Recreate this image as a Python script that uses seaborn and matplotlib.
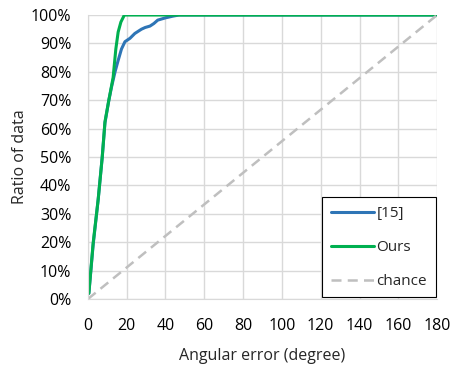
import numpy as np
import pandas as pd
import matplotlib
matplotlib.use("Agg")
import matplotlib.pyplot as plt
import seaborn as sns
from matplotlib.ticker import FuncFormatter

# curves (angle in degrees, ratio in %)
ref_angle = [0.5, 2.7, 5.3, 7.4, 8.8, 10.8, 12.2, 14.0, 15.6, 17.3, 19.1, 21.7, 24.2,
             27.6, 29.5, 32.0, 34.0, 36.0, 40.0, 43.8, 47.0, 180.0]
ref_ratio = [2.0, 19.0, 35.0, 50.0, 62.0, 70.0, 74.7, 80.0, 84.0, 88.0, 90.6, 91.8, 93.5,
             95.0, 95.6, 96.1, 97.0, 98.2, 99.0, 99.6, 100.0, 100.0]

ours_angle = [0.5, 2.7, 5.3, 7.4, 8.8, 10.8, 13.0, 14.4, 15.6, 17.0, 18.8, 180.0]
ours_ratio = [2.0, 19.6, 35.0, 50.0, 62.4, 70.0, 78.0, 88.0, 94.0, 97.5, 100.0, 100.0]

chance_angle = [0, 180]
chance_ratio = [0, 100]

x_ticks = list(range(0, 181, 20))
y_ticks = list(range(0, 101, 10))

sns.set_style("white")
plt.rcParams["font.family"] = ["Open Sans", "DejaVu Sans"]

fig = plt.figure(figsize=(4.53, 3.66), dpi=100)
ax = fig.add_axes([0.194, 0.183, 0.771, 0.776])

ax.set_axisbelow(True)
ax.grid(True, color="#d9d9d9", linewidth=1.0)

sns.lineplot(x=ref_angle, y=ref_ratio, ax=ax, color="#2e75b6", linewidth=2.2, label="[15]")
sns.lineplot(x=ours_angle, y=ours_ratio, ax=ax, color="#00b050", linewidth=2.2, label="Ours")
sns.lineplot(x=chance_angle, y=chance_ratio, ax=ax, color="#bfbfbf", linewidth=1.8,
             linestyle=(0, (4, 2.5)), label="chance")

ax.set_xlim(0, 180)
ax.set_ylim(0, 100)
ax.set_xticks(x_ticks)
ax.set_yticks(y_ticks)
ax.yaxis.set_major_formatter(FuncFormatter(lambda v, p: f"{int(v)}%"))
ax.tick_params(axis="y", length=0, labelsize=11.5, pad=12, colors="black")
ax.tick_params(axis="x", length=0, labelsize=11.5, pad=14, colors="black")
for s in ["top", "right"]:
    ax.spines[s].set_visible(False)
for s in ["left", "bottom"]:
    ax.spines[s].set_color("#d9d9d9")

ax.set_xlabel("Angular error (degree)", fontsize=11.5, labelpad=10)
ax.set_ylabel("Ratio of data", fontsize=11.5, labelpad=2)

leg = ax.legend(loc="lower right", bbox_to_anchor=(1.0, 0.0), fancybox=False, framealpha=1,
                edgecolor="black", fontsize=11, handlelength=2.8, labelspacing=1.25,
                borderpad=0.55, handletextpad=0.2, borderaxespad=0.1)
leg.get_frame().set_linewidth(0.8)

fig.savefig("out.png", dpi=100)
